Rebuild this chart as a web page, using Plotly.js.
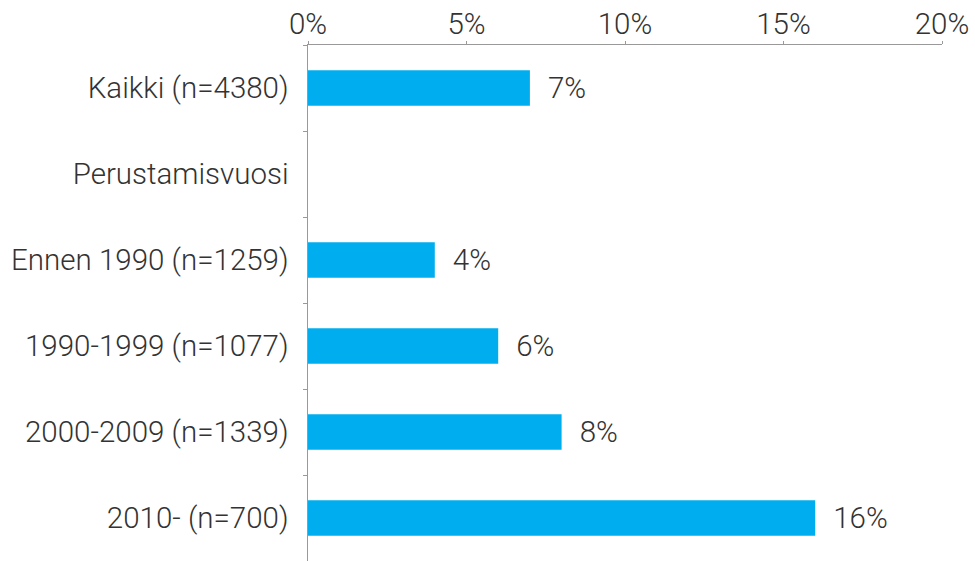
<!DOCTYPE html>
<html>
<head>
<meta charset="utf-8">
<script src="https://cdn.plot.ly/plotly-3.0.1.min.js"></script>
<style>html,body{margin:0;padding:0;background:#fff;}#chart{width:975px;height:561px;}</style>
</head>
<body>
<div id="chart"></div>
<script>
const categories = ["Kaikki (n=4380)", "Perustamisvuosi", "Ennen 1990 (n=1259)", "1990-1999 (n=1077)", "2000-2009 (n=1339)", "2010- (n=700)"];
const values = [7, null, 4, 6, 8, 16];
const labels = ["7%", "", "4%", "6%", "8%", "16%"];
const xTickVals = [0, 5, 10, 15, 20];
const xTickText = ["0%", "5%", "10%", "15%", "20%"];

const font = {family: "Roboto, 'Liberation Sans', sans-serif", size: 29.5, color: "#333333", weight: 300};

const trace = {
  type: "bar",
  orientation: "h",
  y: categories,
  x: values,
  text: labels,
  texttemplate: "\u2002%{text}",
  textposition: "outside",
  cliponaxis: false,
  textfont: font,
  marker: {color: "#00AEEF"},
  width: 0.41,
  hoverinfo: "none"
};

const layout = {
  width: 975, height: 561,
  margin: {l: 308, r: 33, t: 45, b: 0},
  paper_bgcolor: "#ffffff",
  plot_bgcolor: "#ffffff",
  showlegend: false,
  font: font,
  xaxis: {
    side: "top",
    range: [0, 20],
    tickvals: xTickVals,
    ticktext: xTickText,
    showgrid: false,
    zeroline: false,
    showline: true,
    linecolor: "#999999",
    linewidth: 1.5,
    ticks: "outside",
    ticklen: 3,
    tickcolor: "#999999",
    tickfont: font,
    ticklabelstandoff: -5,
    fixedrange: true
  },
  yaxis: {
    type: "category",
    autorange: "reversed",
    showgrid: false,
    zeroline: false,
    showline: true,
    linecolor: "#999999",
    linewidth: 1.5,
    ticks: "outside",
    tickson: "boundaries",
    ticklen: 4,
    tickcolor: "#999999",
    tickfont: font,
    ticklabelstandoff: 12,
    fixedrange: true
  }
};

Plotly.newPlot("chart", [trace], layout, {displayModeBar: false, staticPlot: true});
</script>
</body>
</html>
